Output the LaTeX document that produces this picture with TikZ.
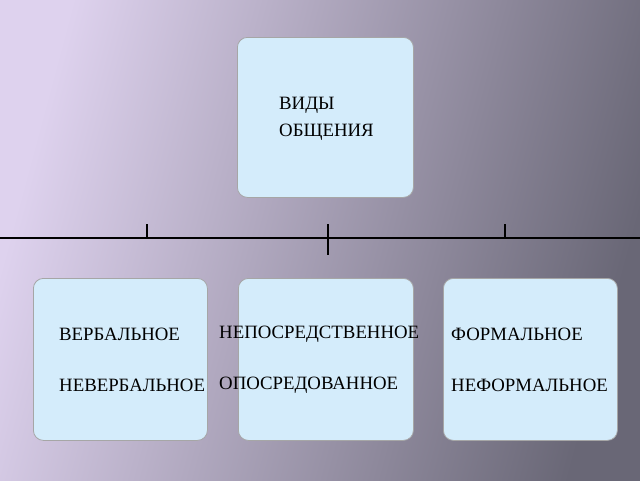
\documentclass[tikz,border=0pt]{standalone}
\usepackage{fontspec}
\setmainfont{Liberation Serif}
\begin{document}
\begin{tikzpicture}[x=1pt,y=-1pt,
  box/.style={draw=gray!70,fill={rgb,255:red,212;green,236;blue,251},rounded corners=10pt,line width=0.8pt},
  lbl/.style={anchor=west,font=\fontsize{18.8}{21}\selectfont,inner sep=0pt},
  ln/.style={line width=1.6pt,black}]
\useasboundingbox (0,0) rectangle (640,480);
\shade[left color={rgb,255:red,222;green,210;blue,238},right color={rgb,255:red,105;green,103;blue,118},shading angle=75] (0,0) rectangle (640,480);
\node[box,minimum width=176,minimum height=160,anchor=north west] (top) at (237,37) {};
\node[box,minimum width=174,minimum height=162,anchor=north west] (b1) at (33,278) {};
\node[box,minimum width=175,minimum height=162,anchor=north west] (b2) at (238,278) {};
\node[box,minimum width=174,minimum height=162,anchor=north west] (b3) at (443,278) {};
\coordinate (l0) at (0,238); \coordinate (l1) at (640,238);
\coordinate (t1) at (147,224); \coordinate (t1b) at (147,238);
\coordinate (t2) at (328,224); \coordinate (t2b) at (328,255);
\coordinate (t3) at (505,224); \coordinate (t3b) at (505,238);
\draw[ln] (l0) -- (l1);
\draw[ln] (t1) -- (t1b);
\draw[ln] (t2) -- (t2b);
\draw[ln] (t3) -- (t3b);
\node[lbl] (a) at (279,105) {ВИДЫ};
\node[lbl] (b) at (279,132) {ОБЩЕНИЯ};
\node[lbl] (c) at (59,334) {ВЕРБАЛЬНОЕ};
\node[lbl] (d) at (59,385) {НЕВЕРБАЛЬНОЕ};
\node[lbl] (e) at (219,334) {НЕПОСРЕДСТВЕННОЕ};
\node[lbl] (f) at (219,385) {ОПОСРЕДОВАННОЕ};
\node[lbl] (g) at (451,334) {ФОРМАЛЬНОЕ};
\node[lbl] (h) at (451,385) {НЕФОРМАЛЬНОЕ};
\end{tikzpicture}
\end{document}
